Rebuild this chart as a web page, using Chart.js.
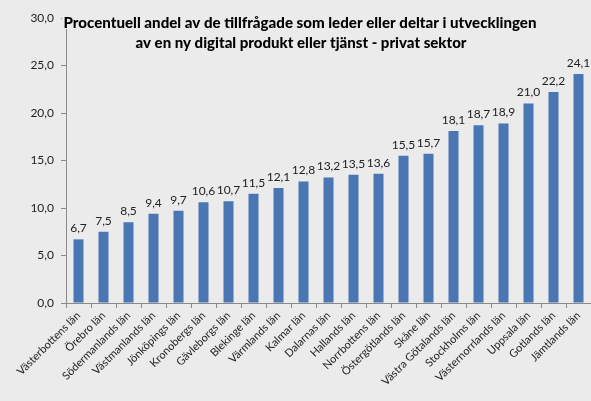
<!DOCTYPE html>
<html><head><meta charset="utf-8">
<script src="https://cdn.jsdelivr.net/npm/chart.js@4"></script>
<style>html,body{margin:0;padding:0;background:#EBEBEB;}#wrap{width:591px;height:401px;position:relative;}</style>
</head><body><div id="wrap"><canvas id="c" width="591" height="401"></canvas></div>
<script>
const categories = ["Västerbottens län","Örebro län","Södermanlands län","Västmanlands län","Jönköpings län","Kronobergs län","Gävleborgs län","Blekinge län","Värmlands län","Kalmar län","Dalarnas län","Hallands län","Norrbottens län","Östergötlands län","Skåne län","Västra Götalands län","Stockholms län","Västernorrlands län","Uppsala län","Gotlands län","Jämtlands län"];
const values = [6.7,7.5,8.5,9.4,9.7,10.6,10.7,11.5,12.1,12.8,13.2,13.5,13.6,15.5,15.7,18.1,18.7,18.9,21.0,22.2,24.1];
const titleLines = ["Procentuell andel av de tillfrågade som leder eller deltar i utvecklingen","av en ny digital produkt eller tjänst - privat sektor"];
const yMin = 0, yMax = 30, yStep = 5;
const fmt = v => v.toFixed(1).replace('.', ',');

const FONT = "Lato, 'Open Sans', sans-serif";

const bgPlugin = {
  id: 'bg',
  beforeDraw(chart){const c=chart.ctx;c.save();c.fillStyle='#EBEBEB';c.fillRect(0,0,chart.width,chart.height);c.restore();}
};
const labelPlugin = {
  id: 'vals',
  afterDatasetsDraw(chart){
    const c=chart.ctx; const meta=chart.getDatasetMeta(0);
    c.save(); c.font="12px "+FONT; c.fillStyle='#222'; c.textAlign='center'; c.textBaseline='bottom';
    meta.data.forEach((bar,i)=>{ c.fillText(fmt(values[i]), bar.x, bar.y-5); });
    c.restore();
  }
};
const titlePlugin = {
  id: 'ttl',
  afterDraw(chart){
    const c=chart.ctx; c.save();
    c.fillStyle='#EBEBEB'; c.fillRect(62,14,480,15);
    c.fillStyle='#000'; c.font="900 15.5px "+FONT; c.textAlign='center'; c.textBaseline='alphabetic';
    c.fillText(titleLines[0], 300, 28, 473);
    c.fillText(titleLines[1], 301, 48, 331);
    c.restore();
  }
};

new Chart(document.getElementById('c'), {
  type: 'bar',
  data: { labels: categories, datasets: [{ data: values, backgroundColor: '#4A77B4', barPercentage: 0.8, categoryPercentage: 0.5 }] },
  options: {
    responsive: false, animation: false, devicePixelRatio: 1,
    layout: { padding: { top: 18, right: 0, left: 0, bottom: 0 } },
    plugins: { legend: { display: false }, tooltip: { enabled: false }, title: { display: false } },
    scales: {
      x: {
        offset: true,
        grid: { offset: true, drawOnChartArea: false, drawTicks: true, tickLength: 5, color: '#8A8A8A' },
        border: { color: '#8A8A8A' },
        ticks: { autoSkip: false, maxRotation: 45, minRotation: 45, color: '#222', font: { family: FONT, size: 11 }, padding: 1 },
        afterFit(s){ s.height = 98; }
      },
      y: {
        min: yMin, max: yMax,
        grid: { drawOnChartArea: false, drawTicks: true, tickLength: 5, color: '#8A8A8A' },
        border: { color: '#8A8A8A' },
        ticks: { stepSize: yStep, color: '#222', font: { family: FONT, size: 12 }, padding: 7, callback: v => fmt(v) },
        afterFit(s){ s.width = 66; }
      }
    }
  },
  plugins: [bgPlugin, labelPlugin, titlePlugin]
});
</script></body></html>
